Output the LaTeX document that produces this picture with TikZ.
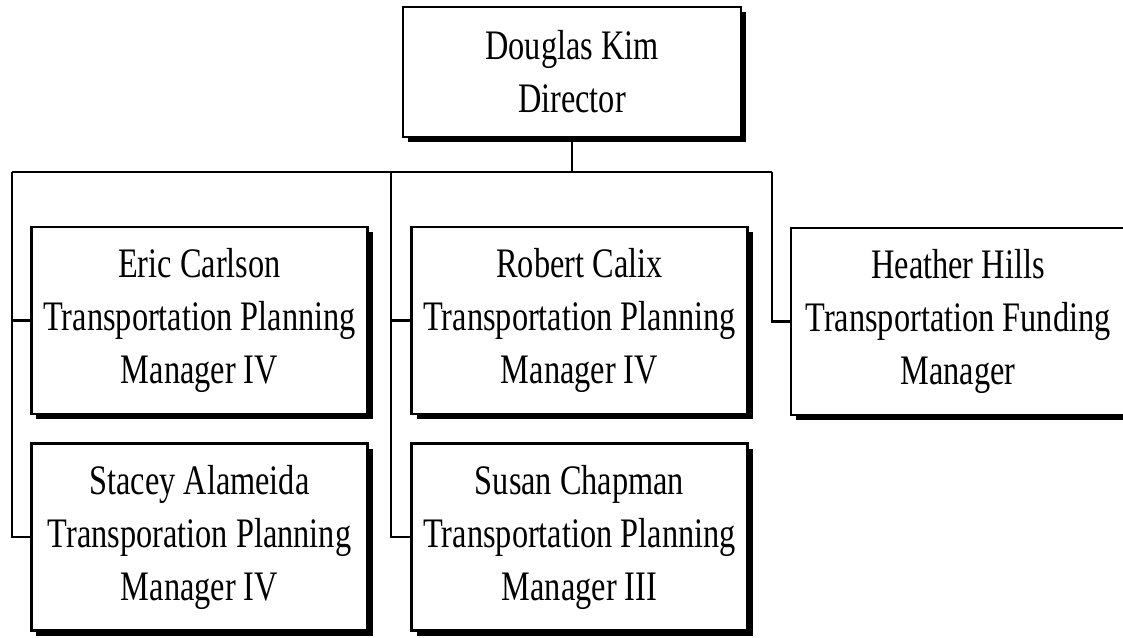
\documentclass[tikz,border=0pt]{standalone}
\usepackage{fontspec}
\setmainfont{Liberation Serif}[FakeStretch=0.77]
\usetikzlibrary{shadows}
\begin{document}
\begin{tikzpicture}[x=1bp,y=-1bp,
  orgbox/.style={draw=black, line width=2.5bp, fill=white, align=center,
    inner sep=0pt, minimum width=336bp, minimum height=187bp,
    font=\fontsize{42bp}{53bp}\selectfont,
    drop shadow={shadow xshift=5bp, shadow yshift=-5bp, fill=black, opacity=1}},
  topbox/.style={orgbox, minimum width=338bp, minimum height=130bp},
  link/.style={draw=black, line width=2.2bp}]
\useasboundingbox (0,0) rectangle (1123,638);
\clip (0,0) rectangle (1123,638);
\fill[white] (0,0) rectangle (1123,638);

\node[topbox] (dir) at (572,72) {Douglas Kim\\Director};
\node[orgbox] (eric) at (199.5,320.5) {Eric Carlson\\Transportation Planning\\Manager IV};
\node[orgbox] (stacey) at (199.5,537) {Stacey Alameida\\Transporation Planning\\Manager IV};
\node[orgbox] (robert) at (579.5,320.5) {Robert Calix\\Transportation Planning\\Manager IV};
\node[orgbox] (susan) at (579.5,537) {Susan Chapman\\Transportation Planning\\Manager III};
\node[orgbox, minimum width=334bp] (heather) at (958,321.5) {Heather Hills\\Transportation Funding\\Manager};

\coordinate (busL) at (12,172);
\coordinate (busM) at (391,172);
\coordinate (busR) at (772,172);
\coordinate (stem) at (dir.south |- busL);

\draw[link] (dir.south) -- (stem);
\draw[link] (busL) -- (busR);
\draw[link] (busL) |- (eric.west);
\draw[link] (busL) |- (stacey.west);
\draw[link] (busM) |- (robert.west);
\draw[link] (busM) |- (susan.west);
\draw[link] (busR) |- (heather.west);
\end{tikzpicture}
\end{document}
